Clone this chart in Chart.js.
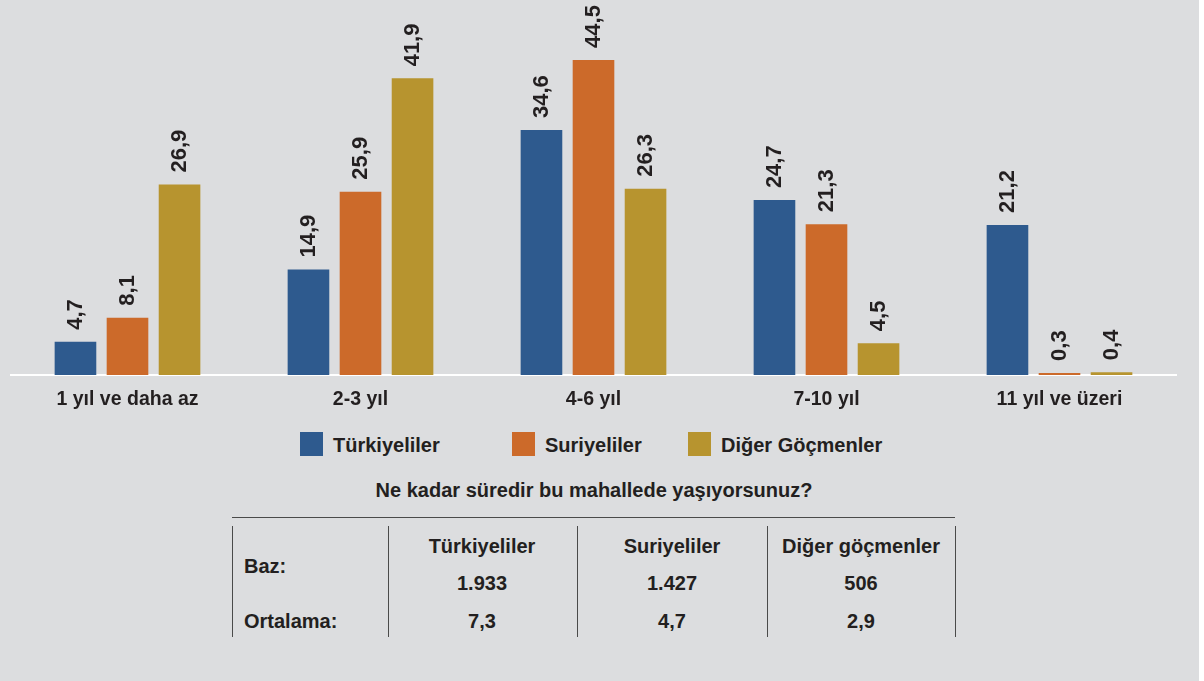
<!DOCTYPE html>
<html>
<head>
<meta charset="utf-8">
<script src="https://cdn.jsdelivr.net/npm/chart.js@4"></script>
<style>
  body { margin: 0; background: #fff; font-family: "Liberation Sans", Arial, sans-serif; color: #231f20; }
  #wrap { position: absolute; left: 0; top: 0; width: 1199px; height: 681px; background: #dcdddf; overflow: hidden; }
  #chart { position: absolute; left: 0; top: 0; }
  .t { position: absolute; font-weight: bold; font-size: 20px; line-height: 24px; white-space: nowrap; }
  .c { transform: translateX(-50%); }
  .box { position: absolute; width: 23px; height: 24px; top: 432px; }
  .hl { position: absolute; height: 1px; background: #4a4a4a; }
  .vl { position: absolute; width: 1px; background: #4a4a4a; top: 526px; height: 111px; }
</style>
</head>
<body>
<div id="wrap">
  <canvas id="chart" width="1199" height="420"></canvas>

  <div id="legend"></div>

  <div class="t c" style="left:594px; top:478px;">Ne kadar süredir bu mahallede yaşıyorsunuz?</div>

  <div class="hl" style="left:232px; top:517px; width:723px;"></div>
  <div class="vl" style="left:232px;"></div>
  <div class="vl" style="left:388px;"></div>
  <div class="vl" style="left:577px;"></div>
  <div class="vl" style="left:767px;"></div>
  <div class="vl" style="left:955px;"></div>
  <div id="table"></div>
</div>

<script>
const categories = ['1 yıl ve daha az', '2-3 yıl', '4-6 yıl', '7-10 yıl', '11 yıl ve üzeri'];
const seriesNames = ['Türkiyeliler', 'Suriyeliler', 'Diğer Göçmenler'];
const turkiyeliler = [4.7, 14.9, 34.6, 24.7, 21.2];
const suriyeliler = [8.1, 25.9, 44.5, 21.3, 0.3];
const digerGocmenler = [26.9, 41.9, 26.3, 4.5, 0.4];
const colors = ['#2e5a8e', '#cc6a2a', '#b7942f'];

const tableHeaders = ['Türkiyeliler', 'Suriyeliler', 'Diğer göçmenler'];
const bazValues = ['1.933', '1.427', '506'];
const ortalamaValues = ['7,3', '4,7', '2,9'];

// rotated value labels above each bar
const valueLabels = {
  id: 'valueLabels',
  afterDatasetsDraw(chart) {
    const ctx = chart.ctx;
    ctx.save();
    ctx.font = 'bold 22px "Liberation Sans", Arial, sans-serif';
    ctx.fillStyle = '#231f20';
    ctx.textAlign = 'left';
    ctx.textBaseline = 'middle';
    chart.data.datasets.forEach((ds, i) => {
      chart.getDatasetMeta(i).data.forEach((bar, j) => {
        ctx.save();
        ctx.translate(bar.x, bar.y - 12);
        ctx.rotate(-Math.PI / 2);
        ctx.fillText(ds.data[j].toFixed(1).replace('.', ','), 0, 0);
        ctx.restore();
      });
    });
    ctx.restore();
  }
};

const seriesData = [turkiyeliler, suriyeliler, digerGocmenler];

new Chart(document.getElementById('chart').getContext('2d'), {
  type: 'bar',
  data: {
    labels: categories,
    datasets: seriesData.map((d, i) => ({
      label: seriesNames[i],
      data: d,
      backgroundColor: colors[i],
      borderWidth: 0,
      categoryPercentage: 0.67,
      barPercentage: 0.8
    }))
  },
  options: {
    responsive: false,
    animation: false,
    layout: { padding: { left: 11, right: 23, top: 21, bottom: 0 } },
    plugins: {
      legend: { display: false },
      tooltip: { enabled: false }
    },
    scales: {
      x: {
        grid: { display: false, drawTicks: false },
        border: { display: true, color: '#ffffff', width: 2 },
        ticks: {
          color: '#231f20',
          padding: 13,
          font: { family: '"Liberation Sans", Arial, sans-serif', size: 19.5, weight: 'bold' }
        },
        afterFit(scale) { scale.height = 45; }
      },
      y: {
        display: false,
        min: 0,
        max: 50
      }
    }
  },
  plugins: [valueLabels]
});

// legend
const legendBoxX = [300, 512, 688];
const legend = document.getElementById('legend');
legend.innerHTML = seriesNames.map((n, i) => `
  <div class="box" style="left:${legendBoxX[i]}px; background:${colors[i]};"></div>
  <div class="t" style="left:${legendBoxX[i] + 33}px; top:433px;">${n}</div>
`).join('');

// table
const colCenters = [482, 672, 861];
let html = `
  <div class="t" style="left:244px; top:554px;">Baz:</div>
  <div class="t" style="left:244px; top:609px;">Ortalama:</div>
`;
tableHeaders.forEach((h, i) => {
  html += `<div class="t c" style="left:${colCenters[i]}px; top:534px;">${h}</div>`;
  html += `<div class="t c" style="left:${colCenters[i]}px; top:571px;">${bazValues[i]}</div>`;
  html += `<div class="t c" style="left:${colCenters[i]}px; top:609px;">${ortalamaValues[i]}</div>`;
});
document.getElementById('table').innerHTML = html;
</script>
</body>
</html>
